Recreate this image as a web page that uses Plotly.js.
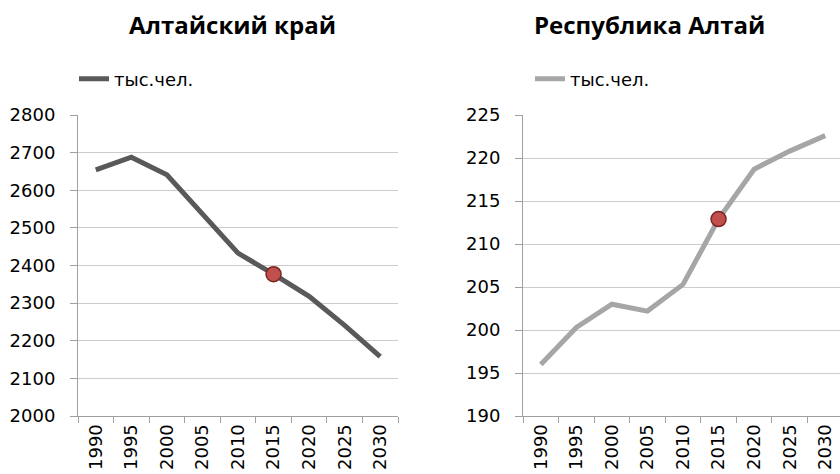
<!DOCTYPE html>
<html>
<head>
<meta charset="utf-8">
<script src="https://cdn.plot.ly/plotly-3.0.1.min.js"></script>
<style>
  html, body { margin: 0; padding: 0; overflow: hidden; background: #fff; }
  #chart { width: 844px; height: 474px; }
</style>
</head>
<body>
<div id="chart"></div>
<script>
// ---- data ----
const years = ["1990", "1995", "2000", "2005", "2010", "2015", "2020", "2025", "2030"];
const altaiKraiValues = [2654, 2688, 2641, 2538, 2433, 2377, 2318, 2241, 2158];
const altaiRepValues = [196.0, 200.3, 203.0, 202.2, 205.3, 212.9, 218.7, 220.8, 222.6];
const highlightYear = "2015";
const seriesName = "тыс.чел.";
const leftTitle = "Алтайский край";
const rightTitle = "Республика Алтай";
const leftTicks = [2000, 2100, 2200, 2300, 2400, 2500, 2600, 2700, 2800];
const rightTicks = [190, 195, 200, 205, 210, 215, 220, 225];

const W = 844, H = 474;
const hiIdx = years.indexOf(highlightYear);

const tickFont = { family: "DejaVu Sans", size: 18, color: "#000" };

const traces = [
  {
    x: years, y: altaiKraiValues, xaxis: "x", yaxis: "y",
    type: "scatter", mode: "lines", name: seriesName,
    line: { color: "#595959", width: 5 }, legend: "legend"
  },
  {
    x: [years[hiIdx]], y: [altaiKraiValues[hiIdx]], xaxis: "x", yaxis: "y",
    type: "scatter", mode: "markers", showlegend: false,
    marker: { color: "#c0504d", size: 15, line: { color: "#7a2522", width: 1.5 } }
  },
  {
    x: years, y: altaiRepValues, xaxis: "x2", yaxis: "y2",
    type: "scatter", mode: "lines", name: seriesName,
    line: { color: "#a6a6a6", width: 5 }, legend: "legend2"
  },
  {
    x: [years[hiIdx]], y: [altaiRepValues[hiIdx]], xaxis: "x2", yaxis: "y2",
    type: "scatter", mode: "markers", showlegend: false,
    marker: { color: "#c0504d", size: 15, line: { color: "#7a2522", width: 1.5 } }
  }
];

const yDom = [1 - 416 / H, 1 - 115 / H];

function xAxis(dom) {
  return {
    domain: dom, type: "category", range: [-0.5, years.length - 0.5],
    showgrid: false, zeroline: false, showline: true, linecolor: "#a0a0a0", linewidth: 1,
    ticks: "outside", tickson: "boundaries", ticklen: 6, tickcolor: "#a0a0a0",
    tickangle: -90, tickfont: tickFont, automargin: false, fixedrange: true
  };
}
function yAxis(range, ticks, anchor) {
  return {
    domain: yDom, range: range, tickvals: ticks, ticktext: ticks.map(String),
    anchor: anchor,
    showgrid: true, gridcolor: "#cccccc", gridwidth: 1, zeroline: false,
    showline: true, linecolor: "#a0a0a0", linewidth: 1,
    ticks: "outside", ticklen: 7, tickcolor: "#a0a0a0",
    tickfont: tickFont, ticklabelstandoff: 11, automargin: false, fixedrange: true
  };
}

const layout = {
  width: W, height: H,
  margin: { l: 0, r: 0, t: 0, b: 0, pad: 0 },
  paper_bgcolor: "#fff", plot_bgcolor: "#fff",
  xaxis: xAxis([78 / W, 398 / W]),
  yaxis: yAxis([2000, 2800], leftTicks, "x"),
  xaxis2: xAxis([523 / W, 843 / W]),
  yaxis2: yAxis([190, 225], rightTicks, "x2"),
  legend: {
    x: 74 / W, y: 1 - 79 / H, xanchor: "left", yanchor: "middle",
    font: { family: "DejaVu Sans", size: 18, color: "#000" },
    bgcolor: "rgba(0,0,0,0)", borderwidth: 0, itemwidth: 30
  },
  legend2: {
    x: 530 / W, y: 1 - 79 / H, xanchor: "left", yanchor: "middle",
    font: { family: "DejaVu Sans", size: 18, color: "#000" },
    bgcolor: "rgba(0,0,0,0)", borderwidth: 0, itemwidth: 30
  },
  annotations: [
    {
      text: "<b>" + leftTitle + "</b>", xref: "paper", yref: "paper",
      x: 232 / W, y: 1 - 24 / H, xanchor: "center", yanchor: "middle", showarrow: false,
      font: { family: "Open Sans", size: 24, color: "#000" }
    },
    {
      text: "<b>" + rightTitle + "</b>", xref: "paper", yref: "paper",
      x: 649 / W, y: 1 - 24 / H, xanchor: "center", yanchor: "middle", showarrow: false,
      font: { family: "Open Sans", size: 24, color: "#000" }
    }
  ],
  showlegend: true
};

Plotly.newPlot("chart", traces, layout, { staticPlot: true, displayModeBar: false });
</script>
</body>
</html>
